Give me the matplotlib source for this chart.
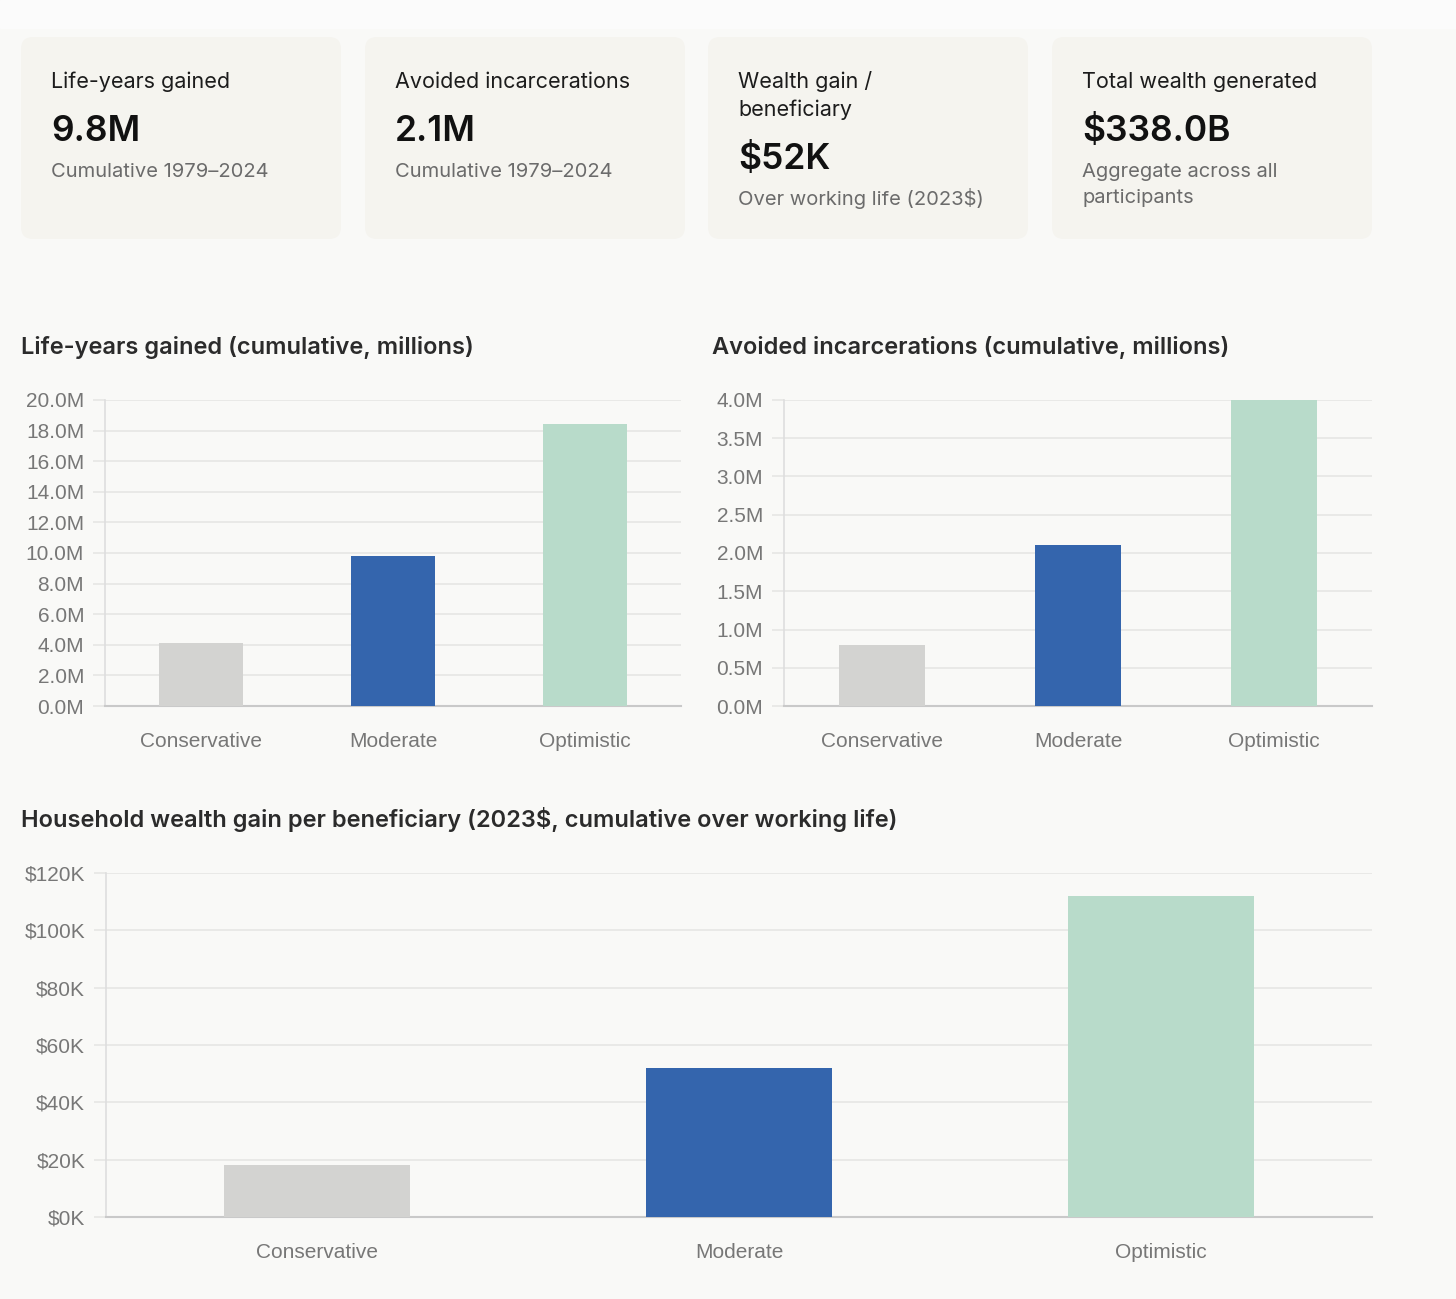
import matplotlib
matplotlib.use('Agg')
import matplotlib.pyplot as plt
from matplotlib.patches import FancyBboxPatch, Rectangle
from matplotlib.ticker import FuncFormatter, MultipleLocator

# data
scenarios = ['Conservative', 'Moderate', 'Optimistic']
life_years_m = [4.1, 9.8, 18.4]
incarcerations_m = [0.8, 2.1, 4.0]
wealth_k = [18, 52, 112]
bar_colors = ['#d3d3d1', '#3465ad', '#b8dbca']

card_titles = [['Life-years gained'], ['Avoided incarcerations'],
               ['Wealth gain /', 'beneficiary'], ['Total wealth generated']]
card_values = ['9.8M', '2.1M', '$52K', '$338.0B']
card_notes = [['Cumulative 1979\u20132024'], ['Cumulative 1979\u20132024'],
              ['Over working life (2023$)'], ['Aggregate across all', 'participants']]

W, H = 1456, 1299
BG = '#f9f9f7'
CARD = '#f5f4ef'
TXT = '#1c1c1c'
SUB = '#6b6b6b'
TICK = '#777777'
GRID = '#e6e6e4'
UI_FONT = ['Inter', 'DejaVu Sans']
AX_FONT = ['Liberation Sans', 'DejaVu Sans']

fig = plt.figure(figsize=(W / 100, H / 100), dpi=100, facecolor=BG)

# background layer in pixel coordinates
bg = fig.add_axes([0, 0, 1, 1])
bg.set_xlim(0, W)
bg.set_ylim(H, 0)
bg.axis('off')
bg.add_patch(Rectangle((0, 0), W, 28, color='#fbfbfb', zorder=0))

card_x = [21, 365, 708, 1052]
for i, x0 in enumerate(card_x):
    bg.add_patch(FancyBboxPatch((x0 + 12, 37 + 12), 320 - 24, 202 - 24,
                                boxstyle='round,pad=12', fc=CARD, ec='none', zorder=1))
    tx = x0 + 30
    y = 88
    for line in card_titles[i]:
        bg.text(tx, y, line, fontsize=15.5, color=TXT, family=UI_FONT, va='baseline', zorder=2)
        y += 28
    y += 25
    bg.text(tx, y, card_values[i], fontsize=25.5, fontweight='semibold', color='#111111',
            family=UI_FONT, va='baseline', zorder=2)
    y += 36
    for line in card_notes[i]:
        bg.text(tx, y, line, fontsize=14.5, color=SUB, family=UI_FONT, va='baseline', zorder=2)
        y += 26

title_kw = dict(fontsize=17, fontweight='semibold', color='#2b2b2b', family=UI_FONT, va='baseline')
bg.text(21, 354, 'Life-years gained (cumulative, millions)', **title_kw)
bg.text(712, 354, 'Avoided incarcerations (cumulative, millions)', **title_kw)
bg.text(21, 827, 'Household wealth gain per beneficiary (2023$, cumulative over working life)',
        **title_kw)


def px_axes(left, right, top, bottom):
    return fig.add_axes([left / W, 1 - bottom / H, (right - left) / W, (bottom - top) / H])


def style_bar_axes(ax, values, ymax, step, fmt):
    ax.set_facecolor('none')
    ax.bar(range(len(scenarios)), values, width=0.44, color=bar_colors, zorder=3)
    ax.set_xlim(-0.5, len(scenarios) - 0.5)
    ax.set_ylim(0, ymax)
    ax.yaxis.set_major_locator(MultipleLocator(step))
    ax.yaxis.set_major_formatter(FuncFormatter(fmt))
    ax.set_xticks(range(len(scenarios)))
    ax.set_xticklabels(scenarios)
    ax.grid(axis='y', color=GRID, linewidth=1.2, zorder=0)
    for s in ['top', 'right']:
        ax.spines[s].set_visible(False)
    ax.spines['left'].set_color('#dedede')
    ax.spines['left'].set_linewidth(1.2)
    ax.spines['bottom'].set_color('#c9c9c9')
    ax.spines['bottom'].set_linewidth(1.5)
    ax.tick_params(axis='y', length=9, width=1.2, color=GRID, pad=6,
                   labelsize=15, labelcolor=TICK)
    ax.tick_params(axis='x', length=0, pad=19, labelsize=15, labelcolor=TICK)
    for lab in ax.get_xticklabels() + ax.get_yticklabels():
        lab.set_family(AX_FONT)


ax1 = px_axes(105, 681, 400, 706)
style_bar_axes(ax1, life_years_m, 20, 2, lambda v, p: f'{v:.1f}M')

ax2 = px_axes(784, 1372, 400, 706)
style_bar_axes(ax2, incarcerations_m, 4, 0.5, lambda v, p: f'{v:.1f}M')

ax3 = px_axes(106, 1372, 873, 1217)
style_bar_axes(ax3, wealth_k, 120, 20, lambda v, p: f'${v:.0f}K')

fig.savefig('out.png', dpi=100, facecolor=BG)
